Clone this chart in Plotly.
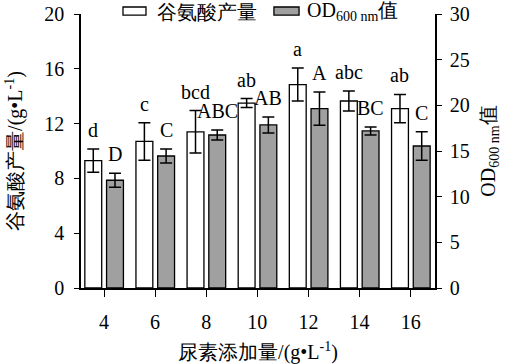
import plotly.graph_objects as go

# ---- data ----
urea = [4, 6, 8, 10, 12, 14, 16]
glu = [9.3, 10.7, 11.4, 13.5, 14.85, 13.65, 13.1]
glu_err = [0.85, 1.37, 1.55, 0.33, 1.2, 0.73, 1.03]
od = [11.8, 14.45, 16.75, 17.85, 19.65, 17.2, 15.55]
od_err = [0.77, 0.77, 0.55, 0.88, 1.82, 0.44, 1.55]
glu_letters = ["d", "c", "bcd", "ab", "a", "abc", "ab"]
od_letters = ["D", "C", "ABC", "AB", "A", "BC", "C"]
x_ticks = [4, 6, 8, 10, 12, 14, 16]
y1_ticks = [0, 4, 8, 12, 16, 20]
y2_ticks = [0, 5, 10, 15, 20, 25, 30]

FONT = "Times New Roman, Liberation Serif, DejaVu Serif, serif"
FS = 20
BW = 0.66
OFF_W = -0.75
OFF_G = 0.10

fig = go.Figure()
fig.add_trace(go.Bar(
    x=urea, y=glu, width=BW, offset=OFF_W, name="谷氨酸产量",
    marker=dict(color="white", line=dict(color="black", width=1.3)),
    error_y=dict(type="data", array=glu_err, color="black", thickness=1.5, width=6),
    yaxis="y", showlegend=False,
))
fig.add_trace(go.Bar(
    x=urea, y=od, width=BW, offset=OFF_G, name="OD600 nm值",
    marker=dict(color="#a0a0a0", line=dict(color="black", width=1.3)),
    error_y=dict(type="data", array=od_err, color="black", thickness=1.5, width=6),
    yaxis="y2", showlegend=False,
))

ann = []
for xv, v, e, t in zip(urea, glu, glu_err, glu_letters):
    ann.append(dict(x=xv + OFF_W + BW / 2, y=v + e, xref="x", yref="y", text=t,
                    showarrow=False, yanchor="bottom", xanchor="center", yshift=6,
                    font=dict(family=FONT, size=20, color="black")))
for xv, v, e, t in zip(urea, od, od_err, od_letters):
    ann.append(dict(x=xv + OFF_G + BW / 2, y=v + e, xref="x", yref="y2", text=t,
                    showarrow=False, yanchor="bottom", xanchor="center", yshift=6,
                    font=dict(family=FONT, size=20, color="black")))

# legend (manual)
ann.append(dict(x=0.209, y=1.009, xref="paper", yref="paper", text="谷氨酸产量",
                showarrow=False, xanchor="left", yanchor="middle",
                font=dict(family=FONT, size=FS, color="black")))
ann.append(dict(x=0.633, y=1.009, xref="paper", yref="paper", text="OD<sub>600 nm</sub>值",
                showarrow=False, xanchor="left", yanchor="middle",
                font=dict(family=FONT, size=FS, color="black")))
shapes = [
    dict(type="rect", xref="paper", yref="paper", x0=0.1186, x1=0.1836, y0=0.996, y1=1.0255,
         fillcolor="white", line=dict(color="black", width=1.3)),
    dict(type="rect", xref="paper", yref="paper", x0=0.545, x1=0.616, y0=0.996, y1=1.0255,
         fillcolor="#a0a0a0", line=dict(color="black", width=1.3)),
]

fig.update_layout(
    width=511, height=364,
    margin=dict(l=81, r=76, t=14, b=76, autoexpand=False),
    paper_bgcolor="white", plot_bgcolor="white",
    font=dict(family=FONT, size=FS, color="black"),
    annotations=ann, shapes=shapes,
    xaxis=dict(range=[3.1, 16.95], tickvals=x_ticks, ticks="outside", ticklen=7, tickwidth=1.3,
               tickcolor="black", showline=True, linecolor="black", linewidth=1.5,
               showgrid=False, zeroline=False, ticklabelstandoff=8, automargin=False,
               tickfont=dict(family=FONT, size=FS),
               title=dict(text="尿素添加量/(g•L<sup>-1</sup>)", standoff=14,
                          font=dict(family=FONT, size=FS))),
    yaxis=dict(range=[0, 20], tickvals=y1_ticks, ticks="outside", ticklen=5, tickwidth=1.3,
               tickcolor="black", showline=True, linecolor="black", linewidth=1.5,
               showgrid=False, zeroline=False, ticklabelstandoff=6, automargin=False,
               tickfont=dict(family=FONT, size=FS),
               title=dict(text="谷氨酸产量/(g•L<sup>-1</sup>)", standoff=16,
                          font=dict(family=FONT, size=FS))),
    yaxis2=dict(range=[0, 30], tickvals=y2_ticks, ticks="outside", ticklen=5, tickwidth=1.3,
                tickcolor="black", showline=True, linecolor="black", linewidth=1.5,
                showgrid=False, zeroline=False, overlaying="y", side="right",
                ticklabelstandoff=4, automargin=False,
                tickfont=dict(family=FONT, size=FS),
                title=dict(text="OD<sub>600 nm</sub>值", standoff=12,
                           font=dict(family=FONT, size=FS))),
)

fig.write_html("out.html", config={"displayModeBar": False},
               post_script="document.body.style.margin='0px';")
